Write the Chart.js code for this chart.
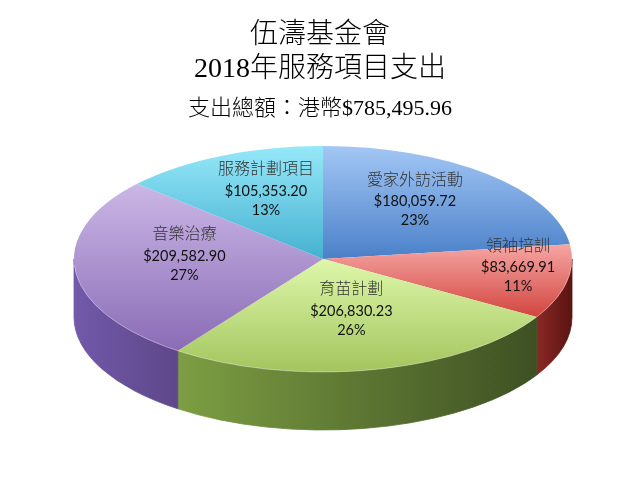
<!DOCTYPE html>
<html>
<head>
<meta charset="utf-8">
<script src="https://cdn.jsdelivr.net/npm/chart.js@4"></script>
<style>
html, body { margin: 0; padding: 0; background: #fff; }
</style>
</head>
<body>
<canvas id="expenseChart" width="640" height="477"></canvas>
<script>
var categories = ['愛家外訪活動', '領袖培訓', '育苗計劃', '音樂治療', '服務計劃項目'];
var amounts = [180059.72, 83669.91, 206830.23, 209582.90, 105353.20];
var titleLines = ['伍濤基金會', '2018年服務項目支出'];
var subtitleText = '支出總額：港幣$785,495.96';

var topLight = ['#a3c7f5', '#f6a6a4', '#def7aa', '#cbb7e6', '#96e8f9'];
var topDark = ['#4a80c9', '#d2453f', '#a3c55e', '#8a6cb6', '#45b1d0'];
var sideLight = ['#3c659e', '#8a2825', '#7d9e43', '#7259aa', '#2f8ea8'];
var sideDark = ['#2c4d7c', '#5a1412', '#3e5023', '#5e4789', '#216f85'];

// where the tilted pie sits on the page
var PIE = { cx: 323, cy: 259, rx: 249, ry: 113, depth: 58 };

var total = amounts.reduce(function(a, b) { return a + b; }, 0);

function money(v) {
    return '$' + v.toLocaleString('en-US', { minimumFractionDigits: 2, maximumFractionDigits: 2 });
}

// vertical gradient over each slice's own height
function sliceFill(context) {
    var chart = context.chart;
    var area = chart.chartArea;
    var i = context.dataIndex;
    if (!area) return topDark[i];
    var cy = (area.top + area.bottom) / 2;
    var r = Math.min(area.width, area.height) / 2;
    var start = -Math.PI / 2;
    for (var k = 0; k < i; k++) start += amounts[k] / total * Math.PI * 2;
    var end = start + amounts[i] / total * Math.PI * 2;
    var minY = 0, maxY = 0;
    for (var s = 0; s <= 30; s++) {
        var y = Math.sin(start + (end - start) * s / 30);
        minY = Math.min(minY, y);
        maxY = Math.max(maxY, y);
    }
    var g = chart.ctx.createLinearGradient(0, cy + minY * r, 0, cy + maxY * r);
    g.addColorStop(0, topLight[i]);
    g.addColorStop(1, topDark[i]);
    return g;
}

var pie3d = {
    id: 'pie3d',
    beforeDatasetsDraw: function(chart) {
        var ctx = chart.ctx;
        var arcs = chart.getDatasetMeta(0).data;
        ctx.save();
        // outer wall, only the front half shows
        arcs.forEach(function(arc, i) {
            var a1 = Math.max(arc.startAngle, 0);
            var a2 = Math.min(arc.endAngle, Math.PI);
            if (a2 <= a1) return;
            var x1 = PIE.cx + PIE.rx * Math.cos(a1);
            var x2 = PIE.cx + PIE.rx * Math.cos(a2);
            var g = ctx.createLinearGradient(Math.min(x1, x2), 0, Math.max(x1, x2), 0);
            g.addColorStop(0, sideLight[i]);
            g.addColorStop(1, sideDark[i]);
            ctx.beginPath();
            ctx.ellipse(PIE.cx, PIE.cy, PIE.rx, PIE.ry, 0, a1, a2);
            ctx.ellipse(PIE.cx, PIE.cy + PIE.depth, PIE.rx, PIE.ry, 0, a2, a1, true);
            ctx.closePath();
            ctx.fillStyle = g;
            ctx.fill();
            ctx.strokeStyle = g;
            ctx.lineWidth = 0.8;
            ctx.stroke();
        });
        // squash the round pie into the top face
        var a0 = arcs[0];
        var r = a0.outerRadius;
        ctx.translate(PIE.cx, PIE.cy);
        ctx.scale(PIE.rx / r, PIE.ry / r);
        ctx.translate(-a0.x, -a0.y);
    },
    afterDatasetsDraw: function(chart) {
        var ctx = chart.ctx;
        ctx.restore();

        // faint rim on the front edge
        ctx.save();
        ctx.beginPath();
        ctx.ellipse(PIE.cx, PIE.cy, PIE.rx, PIE.ry, 0, 0.05, Math.PI - 0.05);
        ctx.strokeStyle = 'rgba(255,255,255,0.35)';
        ctx.lineWidth = 1;
        ctx.stroke();
        ctx.restore();

        var arcs = chart.getDatasetMeta(0).data;
        ctx.save();
        ctx.textAlign = 'center';
        ctx.textBaseline = 'middle';
        arcs.forEach(function(arc, i) {
            var share = amounts[i] / total;
            var mid = (arc.startAngle + arc.endAngle) / 2;
            var f = share < 0.12 ? 0.8 : 0.56;
            var x = PIE.cx + PIE.rx * f * Math.cos(mid);
            var y = PIE.cy + PIE.ry * f * Math.sin(mid) - 10;
            ctx.fillStyle = '#333';
            ctx.font = "300 16px 'Liberation Serif', 'Noto Sans CJK TC', serif";
            ctx.fillText(categories[i], x, y - 21);
            ctx.fillStyle = '#111';
            ctx.font = "14.5px Lato, 'Liberation Sans', sans-serif";
            ctx.fillText(money(amounts[i]), x, y);
            ctx.fillText(Math.round(share * 100) + '%', x, y + 19);
        });
        ctx.restore();
    }
};

var ctx = document.getElementById('expenseChart').getContext('2d');

var expenseChart = new Chart(ctx, {
    type: 'pie',
    data: {
        labels: categories,
        datasets: [{
            data: amounts,
            backgroundColor: sliceFill,
            borderWidth: 0,
            clip: false
        }]
    },
    options: {
        responsive: false,
        animation: false,
        plugins: {
            legend: { display: false },
            tooltip: { enabled: false },
            title: {
                display: true,
                text: titleLines,
                color: '#000',
                font: { family: "'Liberation Serif', 'Noto Sans CJK TC', serif", size: 28, weight: 300, lineHeight: 1.2 },
                padding: { top: 19, bottom: 10 }
            },
            subtitle: {
                display: true,
                text: subtitleText,
                color: '#000',
                font: { family: "'Liberation Serif', 'Noto Sans CJK TC', serif", size: 22, weight: 300, lineHeight: 1.2 },
                padding: { top: 0, bottom: 10 }
            }
        }
    },
    plugins: [pie3d]
});
</script>
</body>
</html>
